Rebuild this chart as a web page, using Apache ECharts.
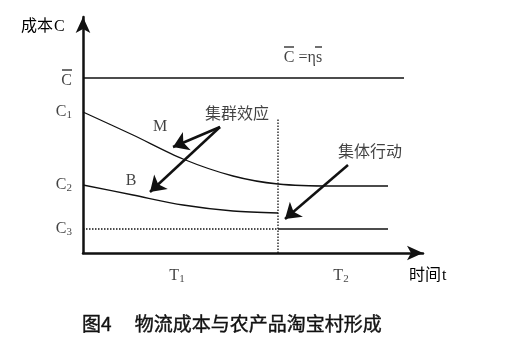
<!DOCTYPE html>
<html><head><meta charset="utf-8">
<script src="https://cdn.jsdelivr.net/npm/echarts@6/dist/echarts.min.js"></script>
<style>html,body{margin:0;padding:0;background:#fff}#c{width:530px;height:337px}</style>
</head><body><div id="c"></div>
<script>
// conceptual axes (time t, cost C)
const xMax = 340, yMax = 236;
const cBarLine = [[0,175],[321,175]];
const curveM = [[0,141],[50,118],[100,94],[150,77],[195,69],[250,67],[305,67]];
const curveB = [[0,68],[50,58],[100,48],[150,42],[195,40]];
const c3Dotted = [[0,24],[195,24]];
const c3Solid = [[195,24],[305,24]];
const t1Divider = [[195,0],[195,135]];
const arrowLines = [
  [[137,126],[90,106]],
  [[137,126],[67,61]],
  [[265,88],[202,34]]
];
const yTickLabels = [
  {v:175, t:'{ol| }\n{c|C}'},
  {v:141, t:'{c|C}{sub|1}'},
  {v:68, t:'{c|C}{sub|2}'},
  {v:24, t:'{c|C}{sub|3}'}
];
const xTickLabels = [
  {v:94, t:'{c|T}{sub|1}'},
  {v:258, t:'{c|T}{sub|2}'}
];
const notes = [
  {x:77, y:126, t:'{c|M}'},
  {x:48, y:72, t:'{c|B}'},
  {x:154, y:140, t:'{zh|集群效应}'},
  {x:287, y:102, t:'{zh|集体行动}'},
  {x:220, y:198, t:'{olc| }{g| }{ols| }\n{c|C =ηs}'}
];
const yName = '{zh|成本}{cb|C}', xName = '{zh|时间}{cb|t}';
const caption = '图4　 物流成本与农产品淘宝村形成';

const serif = '"Liberation Serif","DejaVu Serif",serif';
const cjk = '"Noto Sans CJK SC",sans-serif';
const rich = {
  c:{fontFamily:serif, fontSize:16, color:'#111'},
  cb:{fontFamily:serif, fontSize:16, color:'#111', padding:[4,0,0,1]},
  sub:{fontFamily:serif, fontSize:11, color:'#111', padding:[7,0,0,0]},
  ol:{width:10, height:1.5, fontSize:1, lineHeight:5, backgroundColor:'#111'},
  olc:{width:10, height:1.5, fontSize:1, lineHeight:5, backgroundColor:'#111'},
  g:{width:21, fontSize:1, lineHeight:5},
  ols:{width:7, height:1.5, fontSize:1, lineHeight:5, backgroundColor:'#111'},
  zh:{fontFamily:cjk, fontSize:16, color:'#111'}
};
const lineBase = {type:'line', symbol:'none', silent:true, animation:false, z:3};
const chart = echarts.init(document.getElementById('c'));
chart.setOption({
  backgroundColor:'#fff',
  animation:false,
  grid:{left:83, right:107, top:17, bottom:84},
  title:{text:caption, left:77, top:309, textStyle:{fontFamily:cjk, fontSize:19, fontWeight:'normal', color:'#111', textBorderColor:'#111', textBorderWidth:0.4}},
  xAxis:{type:'value', min:0, max:xMax, splitLine:{show:false}, axisTick:{show:false}, axisLabel:{show:false},
    axisLine:{lineStyle:{color:'#111', width:2.5}, symbol:['none','arrow'], symbolSize:[11,16]}},
  yAxis:{type:'value', min:0, max:yMax, splitLine:{show:false}, axisTick:{show:false}, axisLabel:{show:false},
    axisLine:{lineStyle:{color:'#111', width:2.5}, symbol:['none','arrow'], symbolSize:[11,16]}},
  graphic:[
    {type:'text', left:21, top:17, style:{text:yName, rich:rich}},
    {type:'text', left:409, top:266, style:{text:xName, rich:rich}}
  ],
  series:[
    Object.assign({}, lineBase, {data:cBarLine, lineStyle:{color:'#111', width:1.5}}),
    Object.assign({}, lineBase, {data:curveM, smooth:0.3, lineStyle:{color:'#111', width:1.3}}),
    Object.assign({}, lineBase, {data:curveB, smooth:0.3, lineStyle:{color:'#111', width:1.3}}),
    Object.assign({}, lineBase, {data:c3Dotted, lineStyle:{color:'#111', width:1.3, type:[1.5,1.5]}}),
    Object.assign({}, lineBase, {data:c3Solid, lineStyle:{color:'#111', width:1.3}}),
    Object.assign({}, lineBase, {data:t1Divider, lineStyle:{color:'#111', width:1.3, type:[1.5,1.5]}}),
    {type:'lines', coordinateSystem:'cartesian2d', silent:true, animation:false, z:4,
      symbol:['none','arrow'], symbolSize:[13,15],
      lineStyle:{color:'#111', width:2.5, opacity:1},
      data:arrowLines.map(c=>({coords:c}))},
    {type:'scatter', silent:true, clip:false, symbolSize:0, animation:false,
      data:yTickLabels.map(d=>[0,d.v,d.t]),
      label:{show:true, position:'left', distance:11, formatter:p=>p.data[2], rich:rich}},
    {type:'scatter', silent:true, clip:false, symbolSize:0, animation:false,
      data:xTickLabels.map(d=>[d.v,-23,d.t]),
      label:{show:true, position:'inside', formatter:p=>p.data[2], rich:rich}},
    {type:'scatter', silent:true, clip:false, symbolSize:0, animation:false,
      data:notes.map(d=>[d.x,d.y,d.t]),
      label:{show:true, position:'inside', formatter:p=>p.data[2], rich:rich}}
  ]
});
</script></body></html>
